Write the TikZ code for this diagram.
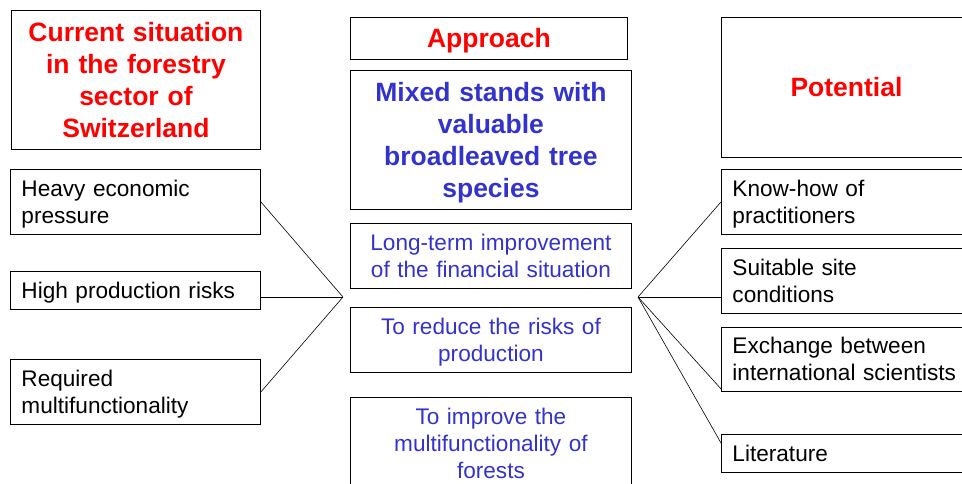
\documentclass[tikz,border=0pt]{standalone}
\usepackage{fontspec}
\setmainfont{Liberation Sans}
\usetikzlibrary{positioning}
\definecolor{headred}{RGB}{255,0,0}
\definecolor{aimblue}{RGB}{51,51,204}
\newcommand{\itemfont}{\fontsize{22.6}{27}\selectfont}
\newcommand{\headfont}{\fontsize{26.5}{32}\selectfont\bfseries}

\begin{document}
\begin{tikzpicture}[x=1pt,y=-1pt,
    box/.style={draw, line width=0.9pt, inner xsep=11pt, inner ysep=0pt,
      execute at begin node={\rule{0pt}{0.905em}},
      execute at end node={\rule[-0.212em]{0pt}{0pt}}},
    head/.style={box, align=center, font=\headfont, text=headred},
    item/.style={box, align=left, text width=228pt, minimum height=65pt, font=\itemfont},
    aim/.style={box, align=center, text width=259pt, minimum height=65pt, font=\itemfont, text=aimblue},
    link/.style={line width=0.6pt}]
  \useasboundingbox (0,0) rectangle (962,483);

  % headings
  \node[head, text width=227pt, minimum height=139pt, anchor=north west] (cur) at (11,10) {Current situation\\in the forestry\\sector of\\Switzerland};
  \node[head, text width=255pt, minimum height=42pt, anchor=north west] (appr) at (350,17) {Approach};
  \node[head, text=aimblue, text width=259pt, minimum height=139pt, anchor=north west] (mix) at (350,70) {Mixed stands with\\valuable\\broadleaved tree\\species};
  \node[head, text width=228pt, minimum height=140pt, anchor=north west] (pot) at (721,17) {Potential};

  % current situation
  \node[item, anchor=north west] (press) at (10,169) {Heavy economic\\pressure};
  \node[item, minimum height=38pt, anchor=north west] (risk) at (10,271) {High production risks};
  \node[item, anchor=north west] (multi) at (10,359) {Required\\multifunctionality};

  % aims
  \node[aim, anchor=north west] (fin) at (350,223) {Long-term improvement\\of the financial situation};
  \node[aim, anchor=north west] (redu) at (350,307) {To reduce the risks of\\production};
  \node[aim, minimum height=92pt, anchor=north west] (impr) at (350,397) {To improve the\\multifunctionality of\\forests};

  % potential
  \node[item, anchor=north west] (know) at (721,169) {Know-how of\\practitioners};
  \node[item, anchor=north west] (suit) at (721,248) {Suitable site\\conditions};
  \node[item, minimum height=64pt, anchor=north west] (exch) at (721,327) {Exchange between\\international scientists};
  \node[item, minimum height=38pt, anchor=north west] (lit) at (721,434) {Literature};

  \coordinate (jl) at (343,297);
  \coordinate (jr) at (638,297);

  \draw[link] (press.east) -- (jl);
  \draw[link] (risk.east |- jl) -- (jl);
  \draw[link] (multi.east) -- (jl);

  \draw[link] (jr) -- (know.west);
  \draw[link] (jr) -- (suit.west |- jr);
  \draw[link] (jr) -- ([yshift=3pt]exch.south west);
  \draw[link] (jr) -- ([yshift=-9pt]lit.north west);
\end{tikzpicture}
\end{document}
